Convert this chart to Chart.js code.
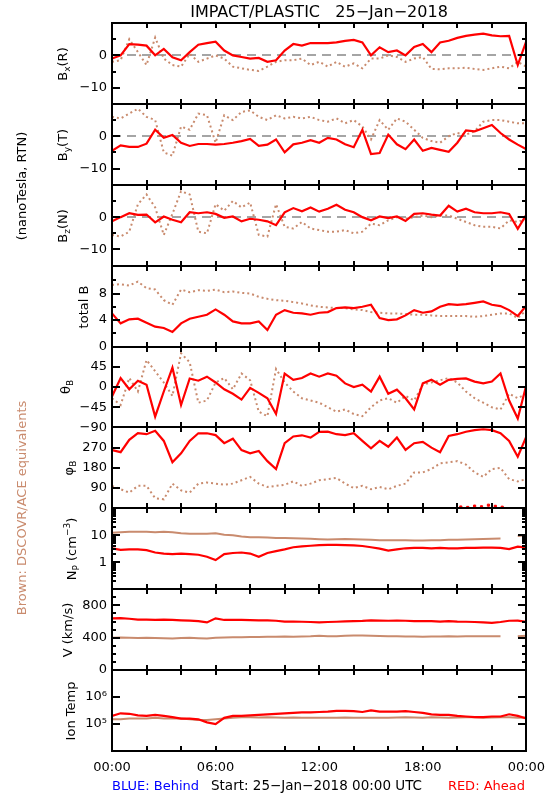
<!DOCTYPE html>
<html>
<head>
<meta charset="utf-8">
<script src="https://cdn.jsdelivr.net/npm/chart.js@4.4.1/dist/chart.umd.min.js"></script>
<style>
  body { margin: 0; background: #fff; }
  #wrap { position: relative; width: 550px; height: 800px; font-family: 'DejaVu Sans', sans-serif; color: #000; }
  #plot { position: absolute; left: 0; top: 0; }
  .t { position: absolute; white-space: pre; font-size: 13px; line-height: 1; }
  .c { transform: translate(-50%, -50%); }
  .r { transform: translate(-50%, -50%) rotate(-90deg); }
  sub { font-size: 9px; vertical-align: -3px; }
  sup { font-size: 9px; vertical-align: 6px; }
</style>
</head>
<body>
<div id="wrap">
  <canvas id="plot" width="550" height="800"></canvas>
  <div class="t c" style="left:319px;top:12px;font-size:16px">IMPACT/PLASTIC   25−Jan−2018</div>
  <div class="t r" style="left:21px;top:186px">(nanoTesla, RTN)</div>
  <div class="t r" style="left:21px;top:508px;color:#c98b6e">Brown: DSCOVR/ACE equivalents</div>
  <div class="t r" style="left:64px;top:64px">B<sub>x</sub>(R)</div>
  <div class="t r" style="left:64px;top:145px">B<sub>y</sub>(T)</div>
  <div class="t r" style="left:64px;top:226px">B<sub>z</sub>(N)</div>
  <div class="t r" style="left:83px;top:307px">total B</div>
  <div class="t r" style="left:67px;top:387px">θ<sub>B</sub></div>
  <div class="t r" style="left:70px;top:468px">φ<sub>B</sub></div>
  <div class="t r" style="left:72px;top:549px">N<sub>P</sub> (cm<sup>−3</sup>)</div>
  <div class="t r" style="left:67px;top:630px">V (km/s)</div>
  <div class="t r" style="left:70px;top:711px">Ion Temp</div>
  <div class="t" style="left:112px;top:779px;color:#0000ff">BLUE: Behind</div>
  <div class="t" style="left:211px;top:779px;font-size:13.5px">Start: 25−Jan−2018 00:00 UTC</div>
  <div class="t" style="right:25px;top:779px;color:#ff0000">RED: Ahead</div>
</div>
<script>
// half-hour samples, 25-Jan-2018 00:00 to 26-Jan 00:00
const hours = Array.from({length: 49}, (_, i) => i / 2);

const bxAhead = [-1, 0, 3.5, 3.3, 3, 0, 2, -0.6, -1.5, 1, 3.3, 3.8, 4.2, 1.5, 0, -0.5, -1, -0.8, -2, -1.5, 1.5, 3.5, 3, 3.8, 3.8, 3.8, 4, 4.5, 4.8, 4, 0, 2.5, 1, 1.5, 0, 2.6, 3.5, 1, 4, 4.5, 5.4, 6, 6.4, 6.7, 6.2, 5.9, 6, -3, 4.5];
const bxAce = [-2, -1.5, 5, 1, -3, 5.5, -1, -3, -3.5, 0.5, -2, -1, 0, -1, -3.5, -4, -4.5, -4.8, -3.5, -2, -1.5, -1.5, -1, -3, -2, -3.5, -2, -3.5, -2.5, -4, -1, -1, 0, -0.5, -2, -1, -0.5, -4.2, -4.3, -4, -4, -3.8, -4.2, -4.5, -4, -3.5, -4, -2, -3.5];

const byAhead = [-4.5, -2.8, -3.3, -3.3, -2.3, 2, -0.5, 0.4, -2, -3, -2.4, -2.4, -2.6, -2.4, -2, -1.5, -0.8, -3, -2.6, -1, -5, -2.5, -2, -1.2, -2, -0.5, -1, -2.5, -3.4, 2, -5.5, -5.2, 0.5, -2.5, -4, -1, -4.5, -3.6, -4.2, -4.8, -2, 1.8, 1.5, 2.5, 3.5, 1, -1, -2.6, -4];
const byAce = [6, 5.5, 7, 8.5, 6, 5, -5, -6, 3, 2, 7, 6.5, -2, 6.5, 5, 7.5, 8, 6, 5, 6.5, 5.5, 6, 5.5, 6, 5, 4.5, 5.5, 4, 5, 3, -1, 5, 2, 5.5, 4.5, 2, -0.5, -1.5, -2, 0, 1, 0.5, 1.5, 4.5, 5, 5, 4.5, 4, 4];

const bzAhead = [-1.3, 0, 1.2, 0.7, 0.8, -1.6, 0.2, -0.8, -1.6, 1.5, 1.2, 1.5, 1, -0.2, 0.2, -1.3, -0.5, -0.8, -1.3, -2.5, 1.5, 2.8, 1.8, 3, 1.7, 2.6, 3.8, 2.3, 1.5, 0, -1, 0.2, -0.3, 0.2, -1.2, 1, 1.2, 0.8, 0.5, 3.5, 1.7, 2.6, 1.5, 1.2, 1.2, 1.5, 1, -3.6, 0.8];
const bzAce = [-5.5, -6, -4.5, 4, 7, 3, -5.5, 1, 8, 7, -4.5, -5, 4, 2, 5, 3, 4.5, -5.5, -6, 4, -3, -3.5, -1.5, -3.5, -4, -4.5, -4.5, -4, -5, -4.5, -2, -2.5, -1, 0, -0.5, 0, 0.5, 0, 0.5, 0.5, -0.5, -1.5, -2.5, -3, -3, -3.5, -1, -1.5, -0.5];

const btAhead = [5, 3.5, 4.1, 4.2, 3.6, 3, 2.8, 2.2, 3.5, 4.2, 4.5, 4.8, 5.6, 4.8, 3.8, 3.5, 3.5, 3.8, 2.5, 4.8, 5.5, 5.1, 5, 4.8, 5.1, 5.2, 5.8, 5.9, 5.8, 6, 6.3, 4.3, 4, 4.1, 4.7, 5.5, 5.1, 5.3, 6, 6.4, 6.3, 6.4, 6.6, 6.8, 6.3, 6.1, 5.5, 4.6, 6.2];
const btAce = [9.3, 9.4, 9.2, 9.8, 8.8, 8.6, 7, 6.3, 8.6, 8.2, 8.5, 8.4, 8.6, 8.2, 8.3, 8.1, 8, 7.5, 7.2, 7, 6.9, 6.7, 6.5, 6.2, 6, 5.9, 5.8, 5.8, 5.6, 5.5, 5.2, 5.1, 5, 5, 4.9, 4.8, 4.8, 4.7, 4.6, 4.6, 4.6, 4.6, 4.5, 4.6, 4.8, 5, 5, 4.3, 5.5];

const thetaAhead = [-21, 20, -5, 14, 5, -66, -10, 43, -40, 19, 14, 23, 10, -5, -15, -28, -2, -13, -25, -60, 30, 16, 20, 30, 23, 30, 25, 8, 0, 5, -10, 23, -15, -6, -25, -50, 8, 16, 5, 16, 18, 19, 12, 8, 12, 30, -30, -70, 5];
const thetaAce = [-25, -40, 20, -10, 60, 35, 10, -20, 75, 55, -35, -30, 10, 20, -5, 30, 15, -55, -65, 40, 10, -10, -25, -30, -35, -45, -55, -50, -60, -65, -45, -30, -25, -35, -20, -30, 5, 10, 15, 20, 10, -10, -25, -35, -45, -50, -15, -25, -15];

const phiAhead = [259, 250, 305, 335, 330, 345, 300, 205, 245, 300, 334, 334, 326, 290, 310, 259, 245, 255, 210, 175, 290, 320, 325, 315, 340, 341, 330, 326, 334, 300, 267, 300, 274, 315, 260, 290, 296, 270, 250, 322, 330, 341, 348, 352, 348, 334, 300, 230, 320];
const phiAce = [100, 85, 70, 100, 100, 45, 40, 110, 80, 70, 110, 115, 110, 105, 110, 125, 140, 110, 95, 100, 105, 120, 100, 110, 125, 130, 135, 110, 90, 100, 85, 95, 85, 100, 110, 160, 160, 175, 200, 205, 210, 195, 160, 140, 175, 180, 130, 120, 130];
// wrapped phi values of the red trace near 0 deg
const phiWrapHours = [20.2, 20.6, 21.0, 21.4, 21.8, 22.2, 22.6];
const phiWrapAhead = [6, 4, 10, 7, 14, 9, 5];

const npAhead = [3.3, 2.9, 3.0, 3.0, 2.8, 2.3, 2.1, 2.0, 2.1, 2.0, 1.9, 1.6, 1.2, 2.0, 2.2, 2.3, 2.1, 1.6, 2.2, 2.6, 3.0, 3.6, 3.9, 4.1, 4.3, 4.4, 4.4, 4.3, 4.2, 4.0, 3.6, 3.2, 2.7, 3.0, 3.3, 3.4, 3.4, 3.3, 3.4, 3.3, 3.3, 3.4, 3.4, 3.5, 3.5, 3.4, 3.1, 3.8, 3.5];
const npAce = [12.5, 13, 13.5, 13.5, 13.5, 13, 13.5, 13, 12, 11.5, 11.5, 11.5, 12, 10.5, 10, 9, 8.5, 8.5, 8.3, 8, 8, 7.8, 7.6, 7.4, 7.2, 7, 7.1, 7.3, 7.2, 7, 6.8, 6.6, 6.5, 6.6, 6.5, 6.4, 6.4, 6.5, 6.6, 6.8, 6.9, 7, 7.1, 7.3, 7.5, 7.6, null, 9.5, 10];

const vAhead = [640, 642, 635, 625, 625, 622, 625, 620, 615, 612, 605, 590, 640, 620, 622, 620, 618, 615, 615, 610, 600, 600, 598, 595, 590, 595, 598, 602, 605, 608, 615, 612, 610, 612, 610, 605, 605, 605, 600, 605, 600, 598, 595, 590, 585, 595, 610, 612, 598];
const vAce = [400, 402, 400, 398, 400, 398, 395, 392, 398, 400, 395, 392, 400, 402, 405, 405, 408, 410, 412, 412, 415, 412, 415, 418, 425, 420, 420, 425, 428, 428, 425, 422, 420, 418, 415, 415, 412, 415, 415, 418, 415, 418, 420, 418, 420, 418, null, 420, 425];

const tAhead = [2.0e5, 2.5e5, 2.4e5, 2.1e5, 2.0e5, 2.2e5, 2.0e5, 1.8e5, 1.6e5, 1.6e5, 1.5e5, 1.15e5, 1.0e5, 1.7e5, 2.0e5, 2.0e5, 2.1e5, 2.2e5, 2.3e5, 2.4e5, 2.5e5, 2.6e5, 2.7e5, 2.7e5, 2.8e5, 2.9e5, 3.1e5, 3.1e5, 3.0e5, 2.8e5, 3.2e5, 2.9e5, 2.9e5, 2.9e5, 3.0e5, 2.8e5, 2.6e5, 2.3e5, 2.2e5, 2.2e5, 2.0e5, 1.9e5, 1.8e5, 1.8e5, 1.9e5, 1.9e5, 2.3e5, 2.0e5, 1.6e5];
const tAce = [1.5e5, 1.5e5, 1.6e5, 1.6e5, 1.6e5, 1.7e5, 1.6e5, 1.6e5, 1.6e5, 1.5e5, 1.4e5, 1.4e5, 1.5e5, 1.6e5, 1.7e5, 1.8e5, 1.8e5, 1.75e5, 1.8e5, 1.75e5, 1.7e5, 1.75e5, 1.7e5, 1.7e5, 1.7e5, 1.7e5, 1.7e5, 1.75e5, 1.7e5, 1.7e5, 1.7e5, 1.7e5, 1.7e5, 1.75e5, 1.8e5, 1.75e5, 1.7e5, 1.8e5, 1.75e5, 1.7e5, 1.75e5, 1.8e5, 1.8e5, 1.7e5, 1.75e5, 1.8e5, 1.8e5, 1.7e5, 1.75e5];

// tick labels per panel
const xLabelHours = [0, 6, 12, 18, 24];
const xTickHours = [0, 2, 4, 6, 8, 10, 12, 14, 16, 18, 20, 22, 24];
const bLabels = [0, -10];
const btLabels = [0, 4, 8];
const thetaLabels = [45, 0, -45, -90];
const phiLabels = [270, 180, 90, 0];
const npLabels = [10, 1];
const vLabels = [800, 400, 0];
const tLabels = [1e6, 1e5];

const RED = '#ff0000';
const BROWN = '#c98b6e';
const font = {family: 'DejaVu Sans', size: 13};

function decadeMinors(from, to) {
  const out = [];
  for (let d = from; d < to; d *= 10) for (let k = 2; k <= 9; k++) out.push(d * k);
  return out;
}

const tickMarks = {
  y1: {major: [0, -10], minor: [5, -5]},
  y2: {major: [0, -10], minor: [5, -5]},
  y3: {major: [0, -10], minor: [5, -5]},
  y4: {major: [4, 8], minor: [2, 6, 10]},
  y5: {major: [45, 0, -45], minor: []},
  y6: {major: [90, 180, 270], minor: []},
  y7: {major: [1, 10], minor: decadeMinors(0.1, 100)},
  y8: {major: [400, 800], minor: [100, 200, 300, 500, 600, 700, 900]},
  y9: {major: [1e5, 1e6], minor: []}
};
const zeroLinePanels = ['y1', 'y2', 'y3'];

const supDigits = {'4': '⁴', '5': '⁵', '6': '⁶', '7': '⁷'};
const minus = v => String(v).replace('-', '−');

function yAxis(weight, type, min, max, labels, fmt) {
  return {
    type: type, position: 'left', stack: 'panels', stackWeight: 1, weight: weight,
    min: min, max: max,
    grid: {display: false, drawTicks: false},
    border: {display: false},
    ticks: {color: '#000', font: font, padding: 5, autoSkip: false, callback: fmt},
    afterBuildTicks: s => { s.ticks = labels.map(v => ({value: v})); },
    afterFit: s => { s.width = 112; s.paddingTop = 0; s.paddingBottom = 0; }
  };
}

function line(values, color, axis, brownDots) {
  return {
    data: values.map((v, i) => ({x: hours[i], y: v})),
    yAxisID: axis,
    borderColor: color,
    borderWidth: color === RED ? 2.2 : 2,
    borderDash: brownDots ? [2, 3] : [],
    pointRadius: 0,
    tension: 0,
    spanGaps: false,
    order: color === BROWN ? 1 : 0
  };
}

const panelFrame = {
  id: 'panelFrame',
  beforeDatasetsDraw(chart) {
    const {ctx, chartArea: a} = chart;
    ctx.save();
    ctx.strokeStyle = '#888';
    ctx.lineWidth = 1.5;
    ctx.setLineDash([9, 6]);
    zeroLinePanels.forEach(id => {
      const y = Math.round(chart.scales[id].getPixelForValue(0));
      ctx.beginPath();
      ctx.moveTo(a.left, y);
      ctx.lineTo(a.right, y);
      ctx.stroke();
    });
    ctx.restore();
  },
  afterDatasetsDraw(chart) {
    const {ctx, chartArea: a, scales} = chart;
    const L = Math.round(a.left), R = Math.round(a.right);
    ctx.save();
    ctx.strokeStyle = '#000';
    ctx.lineWidth = 2;
    Object.keys(tickMarks).forEach(id => {
      const s = scales[id];
      const T = Math.round(s.top), B = Math.round(s.bottom);
      ctx.beginPath();
      ctx.rect(L, T, R - L, B - T);
      xTickHours.forEach(h => {
        const px = Math.round(scales.x.getPixelForValue(h));
        ctx.moveTo(px, T); ctx.lineTo(px, T + 5);
        ctx.moveTo(px, B); ctx.lineTo(px, B - 5);
      });
      [[tickMarks[id].major, 8], [tickMarks[id].minor, 4]].forEach(([vals, len]) => {
        vals.forEach(v => {
          const py = Math.round(s.getPixelForValue(v));
          ctx.moveTo(L, py); ctx.lineTo(L + len, py);
          ctx.moveTo(R, py); ctx.lineTo(R - len, py);
        });
      });
      ctx.stroke();
    });
    ctx.restore();
  }
};

const pad2 = n => String(n).padStart(2, '0');

new Chart(document.getElementById('plot'), {
  type: 'line',
  data: {
    datasets: [
      line(bxAhead, RED, 'y1'), line(bxAce, BROWN, 'y1', true),
      line(byAhead, RED, 'y2'), line(byAce, BROWN, 'y2', true),
      line(bzAhead, RED, 'y3'), line(bzAce, BROWN, 'y3', true),
      line(btAhead, RED, 'y4'), line(btAce, BROWN, 'y4', true),
      line(thetaAhead, RED, 'y5'), line(thetaAce, BROWN, 'y5', true),
      line(phiAhead, RED, 'y6'), line(phiAce, BROWN, 'y6', true),
      {
        data: phiWrapHours.map((h, i) => ({x: h, y: phiWrapAhead[i]})),
        yAxisID: 'y6', showLine: false, pointRadius: 1.5, pointStyle: 'rect',
        backgroundColor: RED, borderColor: RED, order: 0
      },
      line(npAhead, RED, 'y7'), line(npAce, BROWN, 'y7'),
      line(vAhead, RED, 'y8'), line(vAce, BROWN, 'y8'),
      line(tAhead, RED, 'y9'), line(tAce, BROWN, 'y9')
    ]
  },
  options: {
    responsive: false,
    animation: false,
    events: [],
    layout: {autoPadding: false, padding: {left: 0, right: 23.6, top: 23, bottom: 0}},
    plugins: {legend: {display: false}, tooltip: {enabled: false}},
    scales: {
      x: {
        type: 'linear', position: 'bottom', min: 0, max: 24,
        grid: {display: false, drawTicks: false},
        border: {display: false},
        ticks: {color: '#000', font: font, padding: 9, maxRotation: 0, autoSkip: false,
                callback: v => pad2(v % 24) + ':00'},
        afterBuildTicks: s => { s.ticks = xLabelHours.map(v => ({value: v})); },
        afterFit: s => { s.height = 49; s.paddingLeft = 0; s.paddingRight = 0; }
      },
      y1: yAxis(9, 'linear', -15, 10, bLabels, minus),
      y2: yAxis(8, 'linear', -15, 10, bLabels, minus),
      y3: yAxis(7, 'linear', -15, 10, bLabels, minus),
      y4: yAxis(6, 'linear', 0, 12.2, btLabels, minus),
      y5: yAxis(5, 'linear', -90, 90, thetaLabels, minus),
      y6: yAxis(4, 'linear', 0, 360, phiLabels, minus),
      y7: yAxis(3, 'logarithmic', 0.1, 100, npLabels, v => String(v)),
      y8: yAxis(2, 'linear', 0, 1000, vLabels, minus),
      y9: yAxis(1, 'logarithmic', 1e4, 1e7, tLabels,
                v => '10' + supDigits[String(Math.round(Math.log10(v)))])
    }
  },
  plugins: [panelFrame]
});
</script>
</body>
</html>
